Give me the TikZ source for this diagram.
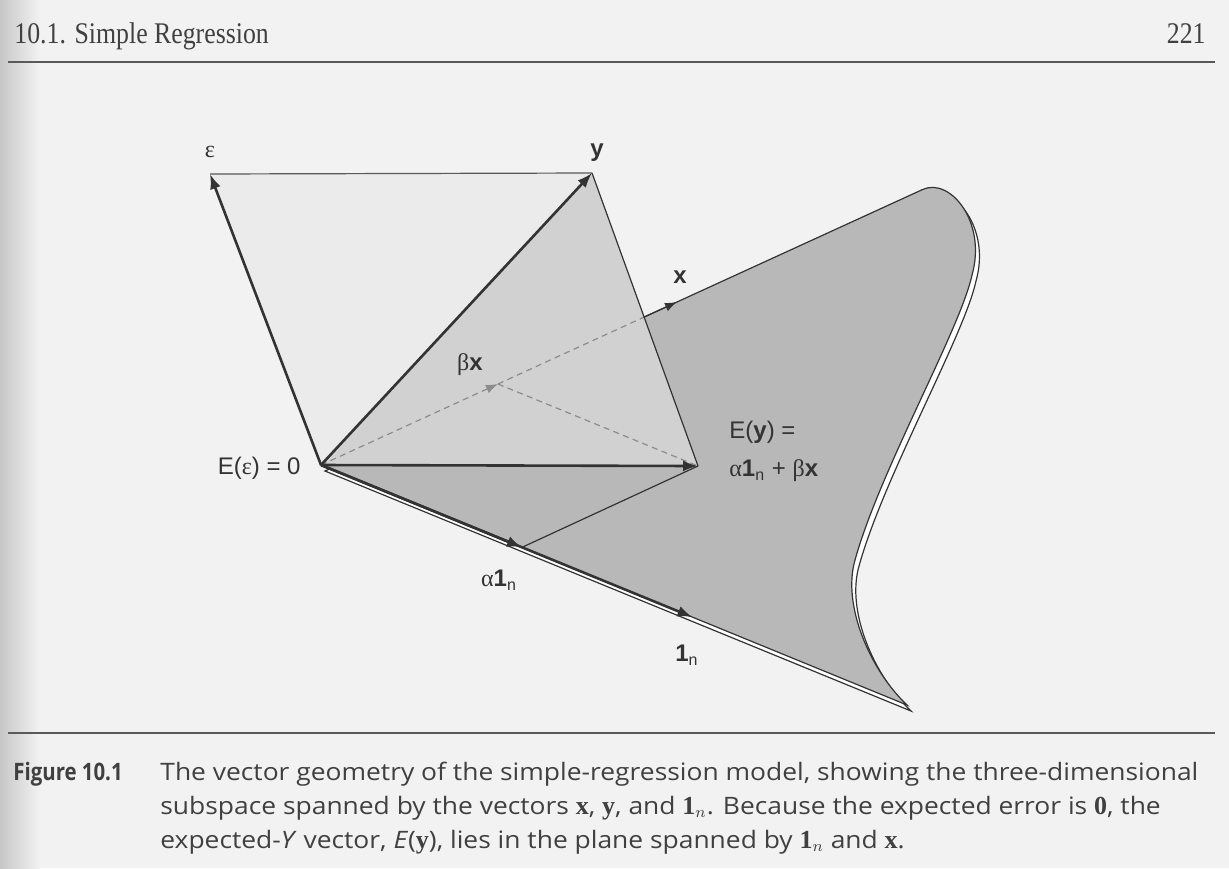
\documentclass[tikz,border=0pt]{standalone}
\usepackage{amsmath}
\usepackage{fontspec}
\setmainfont{Liberation Sans}
\newfontfamily\headfont[FakeStretch=0.86]{Liberation Serif}
\newfontfamily\capfont[FakeStretch=1.1]{Open Sans}
\newfontfamily\capbold[FakeStretch=0.85]{Open Sans}
\newfontfamily\capserif{Liberation Serif}
\newcommand{\capvec}[1]{{\capserif\bfseries\fontsize{13}{16}\selectfont #1}}
\newcommand{\gk}[1]{{\capserif #1}}
\usetikzlibrary{arrows.meta}
\usetikzlibrary{calc}

\begin{document}
\begin{tikzpicture}[x=0.5pt, y=-0.5pt,
  vec/.style={line width=1.3pt, draw=black!80, -{Latex[length=7.5pt,width=5.5pt]}},
  thinline/.style={line width=0.6pt, draw=black!80},
  hiddenline/.style={line width=0.6pt, draw=black!45, dash pattern=on 3pt off 2.2pt},
  vlabel/.style={font=\fontsize{12}{14}\selectfont, text=black!80, inner sep=1pt},
  captext/.style={font=\capfont\fontsize{12}{16}\selectfont, text=black!75, inner sep=0pt, anchor=base west}]
\useasboundingbox (0,0) rectangle (1229,868);
\fill[black!5] (0,0) rectangle (1229,868);
\shade[left color=black!22, right color=black!5] (0,0) rectangle (40,868);

\coordinate (O) at (321,465);
\coordinate (eps) at (210,174);
\coordinate (y) at (592,173);
\coordinate (Ey) at (698,466);
\coordinate (xtip) at (677,302);
\coordinate (xin) at ($(O)!0.907!(xtip)$);
\coordinate (bx) at ($(O)!0.497!(xtip)$);
\coordinate (tip) at (907,705);
\coordinate (a1) at ($(O)!0.343!(tip)$);
\coordinate (one) at ($(O)!0.634!(tip)$);

\fill[black!8] (O) -- (eps) -- (y) -- cycle;
\filldraw[fill=white, thinline, shift={(4,6)}] (321,465) -- (922.6,189.5)
  .. controls (950,177) and (987,222) .. (972,275)
  .. controls (960,330) and (880,470) .. (855,560)
  .. controls (842,605) and (870,670) .. (907,705) -- cycle;
\filldraw[fill=black!28, thinline] (321,465) -- (922.6,189.5)
  .. controls (950,177) and (987,222) .. (972,275)
  .. controls (960,330) and (880,470) .. (855,560)
  .. controls (842,605) and (870,670) .. (907,705) -- cycle;
\fill[black!18] (O) -- (y) -- (Ey) -- cycle;

\draw[hiddenline, -{Latex[length=6pt,width=4.5pt]}] (O) -- (bx);
\draw[hiddenline] (bx) -- (xin);
\draw[hiddenline] (bx) -- (Ey);

\draw[thinline, draw=black!65] (eps) -- (y);
\draw[thinline] (y) -- (Ey);
\draw[thinline] (Ey) -- (a1);
\draw[thinline, -{Latex[length=6pt,width=4.5pt]}] (xin) -- (xtip);
\draw[vec] (O) -- (eps);
\draw[vec] (O) -- (y);
\draw[vec] (O) -- (Ey);
\draw[vec] (O) -- (one);
\draw[vec] (O) -- (a1);

\node[vlabel] (epslab) at (210,152) {\gk{ε}};
\node[vlabel] (ylab) at (597,153) {\textbf{y}};
\node[vlabel] (xlab) at (680,277) {\textbf{x}};
\node[vlabel] (bxlab) at (470,365) {\gk{β}\textbf{x}};
\node[vlabel, anchor=east] (Eepslab) at (303,468) {E(\gk{ε}) = 0};
\node[vlabel, anchor=west] (Eylab) at (727,432) {E(\textbf{y}) =};
\node[vlabel, anchor=west] (Eyval) at (727,471) {\gk{α}\textbf{1}\textsubscript{n} + \gk{β}\textbf{x}};
\node[vlabel] (a1lab) at (499,580) {\gk{α}\textbf{1}\textsubscript{n}};
\node[vlabel] (onelab) at (687,655) {\textbf{1}\textsubscript{n}};

\node[anchor=base west, font=\headfont\fontsize{15}{18}\selectfont, text=black!75, inner sep=0pt] (runhead) at (14,43) {10.1. Simple Regression};
\node[anchor=base east, font=\headfont\fontsize{15}{18}\selectfont, text=black!75, inner sep=0pt] (pagenum) at (1206,43) {221};
\draw[line width=1pt, black!65] (8,62) -- (1215,62);
\draw[line width=1pt, black!65] (8,733) -- (1215,733);

\node[captext, font=\capbold\bfseries\fontsize{12}{16}\selectfont] (figlab) at (13,780) {Figure 10.1};
\node[captext] (cap1) at (160,780) {The vector geometry of the simple-regression model, showing the three-dimensional};
\node[captext] (cap2) at (160,814) {subspace spanned by the vectors \capvec{x}, \capvec{y}, and \capvec{1}$_n$. Because the expected error is \capvec{0}, the};
\node[captext] (cap3) at (160,848) {expected-\textit{Y} vector, \textit{E}(\capvec{y}), lies in the plane spanned by \capvec{1}$_n$ and \capvec{x}.};
\end{tikzpicture}
\end{document}
